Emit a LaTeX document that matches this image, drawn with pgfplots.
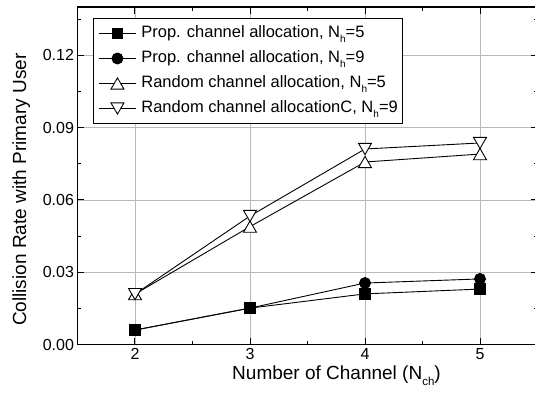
\documentclass[border=0pt]{standalone}
\usepackage{fontspec}
\setmainfont{Liberation Sans}
\usepackage{pgfplots}
\pgfplotsset{compat=1.18}
\newcommand{\lsub}[1]{\raisebox{-5pt}{\fontsize{10}{10}\selectfont #1}}
\begin{document}
\begin{tikzpicture}
\begin{axis}[
  scale only axis, width=460pt, height=337.5pt,
  xmin=1.5, xmax=5.5, ymin=0, ymax=0.14,
  xtick={2,3,4,5}, minor xtick={2.5,3.5,4.5},
  ytick={0,0.03,0.06,0.09,0.12}, minor ytick={0.015,0.045,0.075,0.105,0.135},
  tick align=inside, major tick length=7pt, minor tick length=4pt,
  xtick pos=both, ytick pos=both,
  grid=major, major grid style={draw=gray!55, line width=0.7pt},
  axis line style={line width=1.4pt},
  every tick/.style={black, line width=1pt},
  scaled y ticks=false,
  yticklabel style={/pgf/number format/fixed, /pgf/number format/fixed zerofill, /pgf/number format/precision=2},
  /pgf/number format/assume math mode=true,
  tick label style={font=\fontsize{16}{16}\selectfont},
  label style={font=\fontsize{19}{19}\selectfont},
  xlabel={Number of Channel (N\raisebox{-6pt}{\fontsize{11.5}{11.5}\selectfont ch})},
  xlabel style={xshift=29pt},
  ylabel={Collision Rate with Primary User},
  ylabel style={xshift=-14pt, yshift=6pt},
  legend image code/.code={\draw[mark repeat=2,mark phase=2] plot coordinates {(0pt,0pt)(18.5pt,0pt)(37pt,0pt)};},
  legend cell align=left,
  legend style={at={(0,1)}, anchor=north west, xshift=15.5pt, yshift=-11pt,
    draw=black, line width=1pt, font=\fontsize{16.5}{16.5}\selectfont,
    nodes={inner sep=0pt, text height=12pt, text depth=4pt},
    row sep=9pt, column sep=5pt, inner xsep=5pt, inner ysep=7pt},
]
\addplot[black, line width=0.9pt, mark=square*, mark size=5.2pt, mark options={solid, fill=black}]
  coordinates {(2,0.006) (3,0.0151) (4,0.021) (5,0.023)};
\addlegendentry{Prop. channel allocation, N\lsub{h}=5}
\addplot[black, line width=0.9pt, mark=*, mark size=5.5pt, mark options={solid, fill=black}]
  coordinates {(2,0.006) (3,0.0151) (4,0.0255) (5,0.0272)};
\addlegendentry{Prop. channel allocation, N\lsub{h}=9}
\addplot[black, line width=0.9pt, mark=triangle*, mark size=7.5pt, mark options={solid, fill=white, yshift=-1.9pt}]
  coordinates {(2,0.0209) (3,0.0489) (4,0.0757) (5,0.079)};
\addlegendentry{Random channel allocation, N\lsub{h}=5}
\addplot[black, line width=0.9pt, mark=triangle*, mark size=7.5pt, mark options={solid, fill=white, rotate=180, yshift=-1.9pt}]
  coordinates {(2,0.0209) (3,0.0533) (4,0.0811) (5,0.0836)};
\addlegendentry{Random channel allocationC, N\lsub{h}=9}
\end{axis}
\pgfresetboundingbox
\path[use as bounding box] (-77.5pt,-54.5pt) rectangle (457.5pt,344.5pt);
\end{tikzpicture}
\end{document}
